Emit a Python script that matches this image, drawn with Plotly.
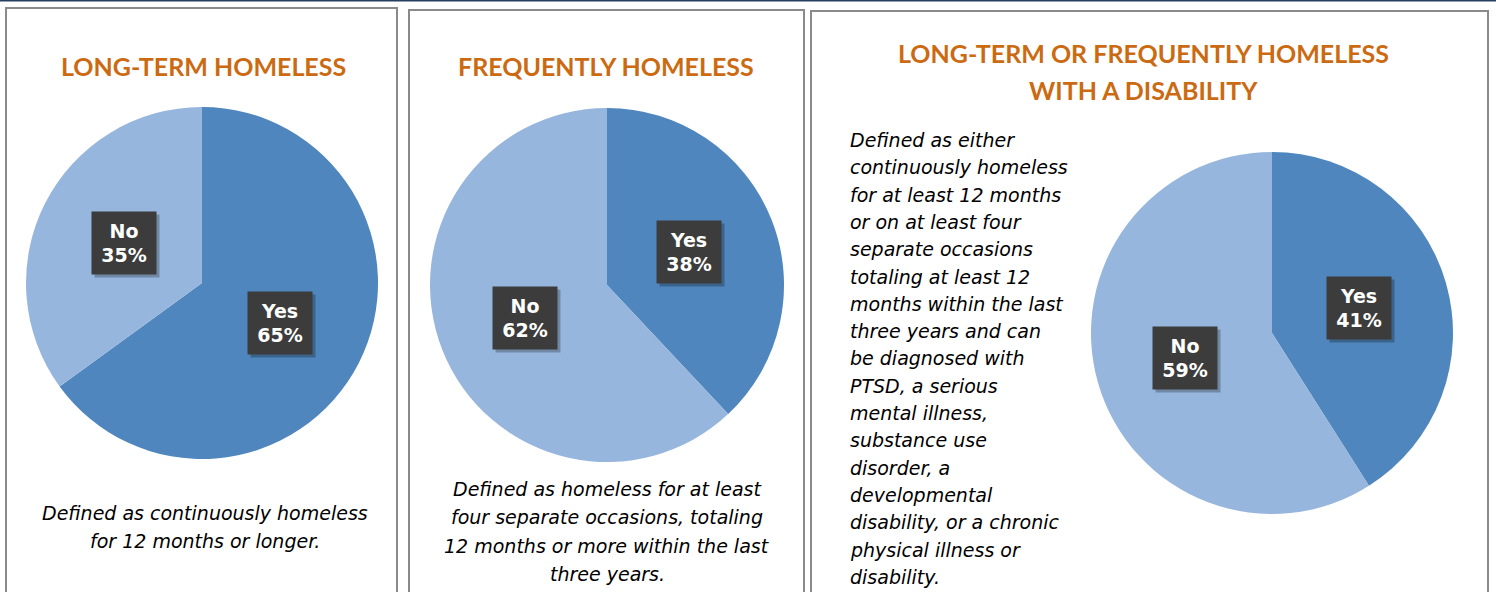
import math
import plotly.graph_objects as go

# values
labels = ["Yes", "No"]
long_term = [65, 35]
frequent = [38, 62]
disability = [41, 59]

titles = [["LONG-TERM HOMELESS"], ["FREQUENTLY HOMELESS"],
          ["LONG-TERM OR FREQUENTLY HOMELESS", "WITH A DISABILITY"]]
notes = [
    ["Defined as continuously homeless", "for 12 months or longer."],
    ["Defined as homeless for at least", "four separate occasions, totaling",
     "12 months or more within the last", "three years."],
    ["Defined as either", "continuously homeless", "for at least 12 months",
     "or on at least four", "separate occasions", "totaling at least 12",
     "months within the last", "three years and can", "be diagnosed with",
     "PTSD, a serious", "mental illness,", "substance use", "disorder, a",
     "developmental", "disability, or a chronic", "physical illness or",
     "disability."],
]

W, H = 1496, 592
colors = ["#4F86BD", "#97B6DD"]
orange = "#CC6A12"
TITLE_FONT = "Lato"
TEXT_FONT = "DejaVu Sans"

fig = go.Figure()

# pie centres / radii in pixels
pies = [
    (long_term, 202, 283, 176),
    (frequent, 607, 285, 177),
    (disability, 1272, 333, 181),
]

for vals, cx, cy, r in pies:
    fig.add_trace(go.Pie(
        labels=labels, values=vals, sort=False, direction="clockwise",
        rotation=0, textinfo="none", hoverinfo="label+percent",
        marker=dict(colors=colors, line=dict(width=0)),
        domain=dict(x=[(cx - r) / W, (cx + r) / W],
                    y=[1 - (cy + r) / H, 1 - (cy - r) / H]),
        showlegend=False,
    ))
    # label boxes at middle of each slice
    start = 0
    total = sum(vals)
    for lab, v in zip(labels, vals):
        mid = (start + v / 2) / total * 2 * math.pi
        start += v
        lx = cx + 0.5 * r * math.sin(mid)
        ly = cy - 0.5 * r * math.cos(mid)
        # shadow
        fig.add_annotation(x=lx + 3, y=ly + 3, xref="x", yref="y", text="",
                           showarrow=False, width=62, height=60,
                           bgcolor="rgba(0,0,0,0.25)")
        fig.add_annotation(x=lx, y=ly, xref="x", yref="y",
                           text=f"<b>{lab}<br>{v}%</b>", showarrow=False,
                           width=62, height=60, bgcolor="#3C3C3C",
                           font=dict(family=TEXT_FONT, size=19, color="white"))

# panel borders
for x0, y0, x1 in [(6, 8, 397), (409, 10, 804), (811, 11, 1488)]:
    fig.add_shape(type="rect", xref="x", yref="y", x0=x0, y0=y0, x1=x1, y1=H + 5,
                  line=dict(color="#8A8A8A", width=2), layer="below")
fig.add_shape(type="line", xref="x", yref="y", x0=0, x1=W, y0=0.5, y1=0.5,
              line=dict(color="#243F60", width=2))


def add_lines(lines, x, y0, step, size, family, color, fmt, anchor="center"):
    for i, line in enumerate(lines):
        fig.add_annotation(x=x, y=y0 + i * step, xref="x", yref="y",
                           text=fmt.format(line), showarrow=False,
                           xanchor=anchor, yanchor="middle",
                           font=dict(family=family, size=size, color=color))


# titles
add_lines(titles[0], 203, 66, 0, 25, TITLE_FONT, orange, "<b>{}</b>")
add_lines(titles[1], 606, 66, 0, 25, TITLE_FONT, orange, "<b>{}</b>")
add_lines(titles[2], 1143, 53, 37, 25, TITLE_FONT, orange, "<b>{}</b>")

# descriptions
add_lines(notes[0], 205, 513, 28, 19, TEXT_FONT, "black", "<i>{}</i>")
add_lines(notes[1], 607, 489, 28.3, 19, TEXT_FONT, "black", "<i>{}</i>")
add_lines(notes[2], 848, 140, 27.3, 19, TEXT_FONT, "black", "<i>{}</i>", "left")

fig.update_layout(
    width=W, height=H, margin=dict(l=0, r=0, t=0, b=0),
    paper_bgcolor="white", plot_bgcolor="white",
    xaxis=dict(range=[0, W], visible=False, fixedrange=True),
    yaxis=dict(range=[H, 0], visible=False, fixedrange=True),
)

fig.write_html("out.html", config={"displayModeBar": False},
               post_script="document.body.style.margin='0';")
